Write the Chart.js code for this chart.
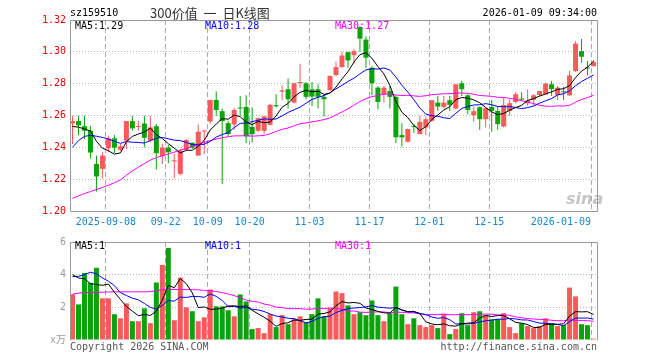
<!DOCTYPE html>
<html>
<head>
<meta charset="utf-8">
<script src="https://cdn.jsdelivr.net/npm/chart.js@4.4.1/dist/chart.umd.min.js"></script>
<style>
  body { margin: 0; background: #fff; width: 660px; height: 360px; overflow: hidden; position: relative;
         font-family: "DejaVu Sans Mono", "Noto Sans CJK SC", monospace; font-size: 10px; }
  canvas { position: absolute; left: 0; }
  .t { position: absolute; white-space: nowrap; line-height: 12px; }
</style>
</head>
<body>
<canvas id="kChart" width="660" height="232" style="top:0"></canvas>
<canvas id="volChart" width="660" height="128" style="top:232px"></canvas>

<div class="t" style="left:70px;top:7px;color:#000">sz159510</div>
<div class="t" style="left:150px;top:5px;color:#333;font:13px 'Noto Sans CJK SC',sans-serif;line-height:16px;white-space:pre;word-spacing:3px">300价值 一 日K线图</div>
<div class="t" style="right:63px;top:7px;color:#000">2026-01-09 09:34:00</div>
<div class="t" style="left:75px;top:20px;color:#000">MA5:1.29</div>
<div class="t" style="left:205px;top:20px;color:#0000ff">MA10:1.28</div>
<div class="t" style="left:335px;top:20px;color:#ff00ff">MA30:1.27</div>
<div class="t" style="left:75px;top:240px;color:#000">MA5:1</div>
<div class="t" style="left:205px;top:240px;color:#0000ff">MA10:1</div>
<div class="t" style="left:335px;top:240px;color:#ff00ff">MA30:1</div>
<div class="t" style="left:566px;top:189px;color:rgba(150,150,150,0.55);font:italic bold 16px 'DejaVu Sans',sans-serif">sina</div>
<div class="t" style="left:70px;top:341px;color:#555">Copyright 2026 SINA.COM</div>
<div class="t" style="right:63px;top:341px;color:#555">http://finance.sina.com.cn</div>

<script>
// tick labels
const dateTickIdx = [6, 16, 23, 30, 40, 50, 60, 70, 87];
const dateTickLabels = ['2025-09-08', '09-22', '10-09', '10-20', '11-03', '11-17', '12-01', '12-15', '2026-01-09'];
const priceTicks = [1.20, 1.22, 1.24, 1.26, 1.28, 1.30, 1.32];
const volTicks = [0, 2, 4, 6];
const volTickLabels = ['x万', '2', '4', '6'];

// daily candles
const opens = [
  1.2550, 1.2565, 1.2533, 1.2504, 1.2296, 1.2265, 1.2394, 1.2456, 1.2385, 1.2442,
  1.2565, 1.2527, 1.2550, 1.2442, 1.2533, 1.2344, 1.2398, 1.2312, 1.2233, 1.2385,
  1.2429, 1.2348, 1.2500, 1.2563, 1.2698, 1.2627, 1.2552, 1.2544, 1.2650, 1.2654,
  1.2529, 1.2504, 1.2504, 1.2542, 1.2665, 1.2750, 1.2765, 1.2681, 1.2804, 1.2802,
  1.2765, 1.2765, 1.2717, 1.2760, 1.2854, 1.2904, 1.2998, 1.2979, 1.3156, 1.3077,
  1.2900, 1.2775, 1.2733, 1.2754, 1.2717, 1.2477, 1.2435, 1.2533, 1.2483, 1.2525,
  1.2567, 1.2681, 1.2654, 1.2696, 1.2644, 1.2802, 1.2727, 1.2602, 1.2652, 1.2577,
  1.2654, 1.2629, 1.2531, 1.2629, 1.2685, 1.2704, 1.2677, 1.2698, 1.2729, 1.2733,
  1.2796, 1.2729, 1.2750, 1.2727, 1.2879, 1.3004, 1.2900, 1.2910
];
const highs = [
  1.2598, 1.2598, 1.2598, 1.2535, 1.2348, 1.2369, 1.2473, 1.2477, 1.2421, 1.2565,
  1.2598, 1.2565, 1.2598, 1.2598, 1.2546, 1.2421, 1.2415, 1.2358, 1.2390, 1.2452,
  1.2431, 1.2544, 1.2504, 1.2698, 1.2752, 1.2644, 1.2567, 1.2648, 1.2723, 1.2727,
  1.2650, 1.2588, 1.2598, 1.2673, 1.2733, 1.2790, 1.2833, 1.2806, 1.2925, 1.2810,
  1.2810, 1.2796, 1.2733, 1.2852, 1.2938, 1.3000, 1.3000, 1.3019, 1.3160, 1.3098,
  1.2910, 1.2785, 1.2785, 1.2785, 1.2727, 1.2552, 1.2519, 1.2546, 1.2598, 1.2594,
  1.2696, 1.2723, 1.2723, 1.2723, 1.2796, 1.2817, 1.2733, 1.2656, 1.2656, 1.2650,
  1.2698, 1.2660, 1.2713, 1.2702, 1.2748, 1.2748, 1.2765, 1.2733, 1.2754, 1.2806,
  1.2817, 1.2785, 1.2781, 1.2879, 1.3067, 1.3081, 1.2942, 1.2948
];
const lows = [
  1.2421, 1.2477, 1.2452, 1.2331, 1.2123, 1.2206, 1.2369, 1.2365, 1.2379, 1.2390,
  1.2504, 1.2504, 1.2400, 1.2431, 1.2260, 1.2296, 1.2300, 1.2206, 1.2223, 1.2379,
  1.2390, 1.2348, 1.2358, 1.2548, 1.2598, 1.2171, 1.2469, 1.2510, 1.2598, 1.2427,
  1.2431, 1.2494, 1.2483, 1.2535, 1.2650, 1.2696, 1.2644, 1.2677, 1.2775, 1.2702,
  1.2660, 1.2644, 1.2594, 1.2754, 1.2848, 1.2900, 1.2900, 1.2927, 1.3000, 1.2900,
  1.2727, 1.2640, 1.2681, 1.2644, 1.2427, 1.2406, 1.2431, 1.2490, 1.2483, 1.2477,
  1.2560, 1.2629, 1.2644, 1.2629, 1.2640, 1.2723, 1.2608, 1.2560, 1.2510, 1.2525,
  1.2498, 1.2510, 1.2525, 1.2598, 1.2677, 1.2692, 1.2660, 1.2665, 1.2723, 1.2731,
  1.2723, 1.2698, 1.2698, 1.2723, 1.2873, 1.2931, 1.2852, 1.2906
];
const closes = [
  1.2565, 1.2538, 1.2504, 1.2367, 1.2217, 1.2348, 1.2456, 1.2398, 1.2406, 1.2565,
  1.2519, 1.2531, 1.2460, 1.2525, 1.2363, 1.2398, 1.2369, 1.2317, 1.2377, 1.2446,
  1.2398, 1.2498, 1.2504, 1.2698, 1.2635, 1.2565, 1.2483, 1.2635, 1.2644, 1.2469,
  1.2483, 1.2583, 1.2594, 1.2667, 1.2658, 1.2758, 1.2702, 1.2802, 1.2808, 1.2717,
  1.2719, 1.2717, 1.2702, 1.2848, 1.2904, 1.2977, 1.2946, 1.3004, 1.3083, 1.2963,
  1.2802, 1.2685, 1.2775, 1.2717, 1.2463, 1.2463, 1.2515, 1.2529, 1.2560, 1.2577,
  1.2696, 1.2656, 1.2681, 1.2667, 1.2796, 1.2765, 1.2635, 1.2627, 1.2577, 1.2646,
  1.2629, 1.2546, 1.2665, 1.2677, 1.2733, 1.2700, 1.2696, 1.2727, 1.2754, 1.2800,
  1.2765, 1.2775, 1.2746, 1.2852, 1.3052, 1.2969, 1.2896, 1.2935
];
// volume, in units of 10k
const volumes = [
  2.79, 2.18, 4.10, 3.50, 4.42, 2.55, 2.55, 1.58, 1.33, 2.24,
  1.15, 1.15, 1.94, 1.03, 3.52, 4.60, 5.64, 1.21, 3.82, 2.00,
  1.76, 1.15, 1.39, 3.09, 2.06, 2.06, 1.82, 1.45, 2.79, 2.36,
  0.67, 0.73, 0.42, 1.58, 0.79, 1.52, 0.97, 1.27, 1.45, 1.09,
  1.58, 2.55, 1.45, 1.94, 2.97, 2.87, 2.12, 1.58, 1.70, 1.52,
  2.42, 1.52, 1.15, 1.64, 3.27, 1.58, 0.97, 1.33, 0.91, 0.79,
  0.91, 0.73, 1.58, 0.36, 0.67, 1.64, 0.91, 1.70, 1.76, 1.52,
  1.27, 1.27, 1.64, 0.79, 0.42, 1.03, 0.85, 0.73, 0.85, 1.33,
  1.03, 0.85, 0.91, 3.21, 2.67, 0.97, 0.91, 0.08
];

const ma5Head = [1.2531, 1.2527, 1.2515, 1.2503];
const ma10Head = [1.2400, 1.2442, 1.2469, 1.2475, 1.2470, 1.2462, 1.2452, 1.2438, 1.2425];
const ma30Head = [
  1.2080, 1.2095, 1.2110, 1.2122, 1.2135, 1.2148, 1.2162, 1.2178, 1.2195, 1.2225,
  1.2252, 1.2275, 1.2298, 1.2320, 1.2335, 1.2348, 1.2358, 1.2370, 1.2382, 1.2393,
  1.2405, 1.2418, 1.2432, 1.2442, 1.2452, 1.2460, 1.2467, 1.2472, 1.2472
];
const volMa5Head = [4.0, 3.8, 3.75, 3.45];
const volMa10Head = [3.88, 3.9, 4.0, 4.15, 4.05, 3.8, 3.6, 3.33, 2.9];
const volMa30Head = [
  2.80, 2.87, 2.90, 2.92, 2.92, 2.93, 2.94, 2.95, 2.95, 2.95,
  2.95, 2.95, 2.95, 2.96, 3.02, 3.08, 3.09, 3.09, 3.09, 3.09,
  3.08, 3.07, 3.04, 3.01, 2.97, 2.90, 2.82, 2.72, 2.60
];

const UP = '#f65a5a';
const DOWN = '#0aa40a';
const FONT = {family: '"DejaVu Sans Mono", "Noto Sans CJK SC", monospace', size: 10};
const X_MIN = -5 / 12; // 6px per day, candle centres land on half pixels

function movingAvg(values, n, head) {
  return values.map((v, i) => {
    if (i < n - 1) return head[i];
    let s = 0;
    for (let j = i - n + 1; j <= i; j++) s += values[j];
    return s / n;
  });
}

const candleColors = closes.map((c, i) => c >= opens[i] ? UP : DOWN);
const pts = arr => arr.map((y, i) => ({x: i, y: y}));

function lineSet(data, color) {
  return {type: 'line', data: pts(data), borderColor: color, borderWidth: 1,
          pointRadius: 0, tension: 0, fill: false, order: 0};
}

function xAxis(showLabels) {
  return {
    type: 'linear', min: X_MIN, max: X_MIN + closes.length, offset: false,
    afterBuildTicks: s => { s.ticks = dateTickIdx.map(k => ({value: k + X_MIN})); },
    afterFit: s => { s.height = showLabels ? 21 : 20; },
    grid: {color: '#aaa', drawTicks: false, offset: false},
    border: {display: false, dash: [5, 3]},
    ticks: {
      display: showLabels, autoSkip: false, maxRotation: 0, padding: 5, color: '#1a86d0', font: FONT,
      callback: (v, i) => i === dateTickIdx.length - 1 ? '' : dateTickLabels[i]
    }
  };
}

const framePlugin = {
  id: 'frame',
  afterDraw(chart, args, opts) {
    const {left, right, top, bottom} = chart.chartArea;
    const c = chart.ctx;
    c.save();
    c.strokeStyle = '#999';
    c.lineWidth = 1;
    c.beginPath();
    c.moveTo(left + 0.5, bottom + 0.5);
    c.lineTo(left + 0.5, top + 0.5);
    c.lineTo(right + 0.5, top + 0.5);
    c.lineTo(right + 0.5, bottom + 0.5);
    if (opts.bottom) c.lineTo(left + 0.5, bottom + 0.5);
    c.stroke();
    c.restore();
  }
};

// last date label sits flush right against its grid line
const lastDatePlugin = {
  id: 'lastDate',
  afterDraw(chart) {
    const s = chart.scales.x;
    const k = dateTickIdx.length - 1;
    const c = chart.ctx;
    c.save();
    c.font = '10px ' + FONT.family;
    c.fillStyle = '#1a86d0';
    c.textAlign = 'right';
    c.textBaseline = 'middle';
    c.fillText(dateTickLabels[k], s.getPixelForValue(dateTickIdx[k] + X_MIN), s.top + 11);
    c.restore();
  }
};

const common = {
  responsive: false, animation: false, events: [],
  plugins: {legend: {display: false}, tooltip: {enabled: false}}
};

new Chart(document.getElementById('kChart'), {
  type: 'bar',
  data: {
    datasets: [
      lineSet(movingAvg(closes, 5, ma5Head), '#000'),
      lineSet(movingAvg(closes, 10, ma10Head), '#0000ff'),
      lineSet(movingAvg(closes, 30, ma30Head), '#ff00ff'),
      {data: opens.map((o, i) => ({x: i, y: [o, closes[i]]})), backgroundColor: candleColors,
       barThickness: 5, grouped: false, minBarLength: 1, inflateAmount: 0, borderWidth: 0, order: 1},
      {data: lows.map((l, i) => ({x: i, y: [l, highs[i]]})), backgroundColor: candleColors,
       barThickness: 1, grouped: false, inflateAmount: 0, borderWidth: 0, order: 2}
    ]
  },
  options: Object.assign({}, common, {
    layout: {padding: {top: 20, right: 63, bottom: 0, left: 0}},
    plugins: Object.assign({}, common.plugins, {frame: {bottom: true}}),
    scales: {
      x: xAxis(true),
      y: {
        min: priceTicks[0], max: priceTicks[priceTicks.length - 1], beginAtZero: false,
        afterBuildTicks: s => { s.ticks = priceTicks.map(v => ({value: v})); },
        afterFit: s => { s.width = 70; },
        grid: {
          drawTicks: false,
          color: ctx => (ctx.index > 0 && ctx.index < priceTicks.length - 1) ? '#b4b4b4' : 'transparent'
        },
        border: {display: false, dash: [1, 2]},
        ticks: {color: '#e80000', font: FONT, padding: 4, callback: v => v.toFixed(2)}
      }
    }
  }),
  plugins: [framePlugin, lastDatePlugin]
});

new Chart(document.getElementById('volChart'), {
  type: 'bar',
  data: {
    datasets: [
      lineSet(movingAvg(volumes, 5, volMa5Head), '#000'),
      lineSet(movingAvg(volumes, 10, volMa10Head), '#0000ff'),
      lineSet(movingAvg(volumes, 30, volMa30Head), '#ff00ff'),
      {data: volumes.map((v, i) => ({x: i, y: v})), backgroundColor: candleColors,
       barThickness: 5, grouped: false, inflateAmount: 0, borderWidth: 0, order: 1}
    ]
  },
  options: Object.assign({}, common, {
    layout: {padding: {top: 8, right: 63, bottom: 0, left: 0}},
    plugins: Object.assign({}, common.plugins, {frame: {bottom: false}}),
    scales: {
      x: xAxis(false),
      y: {
        min: volTicks[0], max: volTicks[volTicks.length - 1], beginAtZero: true,
        afterBuildTicks: s => { s.ticks = volTicks.map(v => ({value: v})); },
        afterFit: s => { s.width = 70; },
        grid: {
          drawTicks: false,
          color: ctx => (ctx.index > 0 && ctx.index < volTicks.length - 1) ? '#b4b4b4' : 'transparent'
        },
        border: {display: false, dash: [1, 2]},
        ticks: {color: '#999', font: FONT, padding: 4, callback: (v, i) => volTickLabels[i]}
      }
    }
  }),
  plugins: [framePlugin]
});
</script>
</body>
</html>
